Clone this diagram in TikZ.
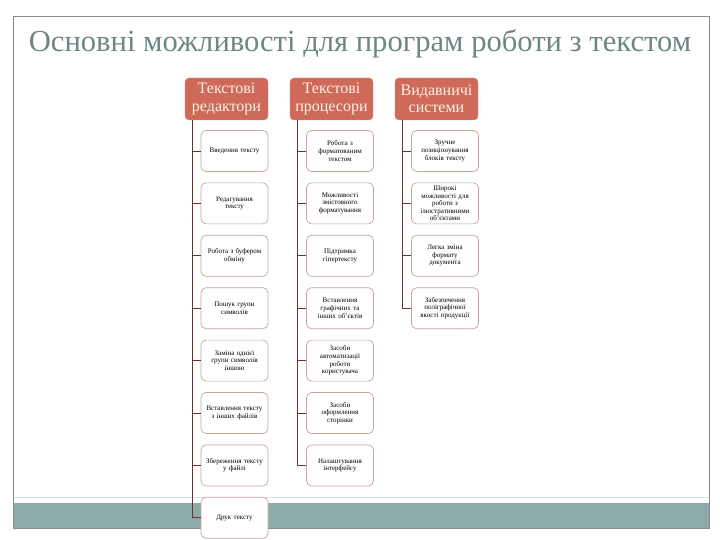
\documentclass[tikz,border=0pt]{standalone}
\usepackage{fontspec}
\setmainfont{Liberation Serif}
\definecolor{titlecol}{HTML}{6E8683}
\definecolor{headfill}{HTML}{CF6A5A}
\definecolor{headtext}{HTML}{FBF1E6}
\definecolor{boxline}{HTML}{C9A29C}
\definecolor{conncol}{HTML}{6E3128}
\definecolor{bandcol}{HTML}{8BABAA}
\definecolor{framecol}{HTML}{8A8A8A}
\tikzset{
  headbox/.style={draw=headfill!80!white, fill=headfill, rounded corners=4pt,
    minimum width=83pt, minimum height=42pt, inner sep=1pt, text width=81pt,
    align=center, text=headtext, font=\fontsize{16}{17.5}\selectfont},
  itembox/.style={draw=boxline, fill=white, rounded corners=5pt, line width=0.7pt,
    minimum width=67pt, minimum height=41pt, inner sep=1pt, text width=65pt,
    align=center, font=\fontsize{7}{7.6}\selectfont},
  conn/.style={draw=conncol, line width=0.7pt}
}
\begin{document}
\begin{tikzpicture}[x=1pt,y=-1pt]
\useasboundingbox (0,0) rectangle (720,540);
% frame and band
\fill[bandcol] (13,503) rectangle (709,528);
\draw[black!12, line width=0.5pt] (13,497) -- (709,497);
\draw[framecol, line width=0.8pt] (13,16) rectangle (709,528);
% title
\node[text=titlecol, font=\fontsize{30.6}{33}\selectfont] (title) at (360,44) {Основні можливості для програм роботи з текстом};
% headers
\node[headbox] (h1) at (226.5,99) {Текстові\\редактори};
\node[headbox] (h2) at (331.5,99) {Текстові\\процесори};
\node[headbox] (h3) at (436.5,99) {Видавничі\\системи};
% column 1
\node[itembox] (a1) at (234.5,151) {Введення тексту};
\node[itembox] (a2) at (234.5,203.4) {Редагування\\тексту};
\node[itembox] (a3) at (234.5,255.8) {Робота з буфером\\обміну};
\node[itembox] (a4) at (234.5,308.2) {Пошук групи\\символів};
\node[itembox] (a5) at (234.5,360.6) {Заміна однієї\\групи символів\\іншою};
\node[itembox] (a6) at (234.5,413) {Вставлення тексту\\з інших файлів};
\node[itembox] (a7) at (234.5,465.4) {Збереження тексту\\у файлі};
\node[itembox] (a8) at (234.5,517.8) {Друк тексту};
% column 2
\node[itembox] (b1) at (340,151) {Робота з\\форматованим\\текстом};
\node[itembox] (b2) at (340,203.4) {Можливості\\змістовного\\форматування};
\node[itembox] (b3) at (340,255.8) {Підтримка\\гіпертексту};
\node[itembox] (b4) at (340,308.2) {Вставлення\\графічних та\\інших об'єктів};
\node[itembox] (b5) at (340,360.6) {Засоби\\автоматизації\\роботи\\користувача};
\node[itembox] (b6) at (340,413) {Засоби\\оформлення\\сторінки};
\node[itembox] (b7) at (340,465.4) {Налаштування\\інтерфейсу};
% column 3
\node[itembox] (c1) at (445,151) {Зручне\\позиціонування\\блоків тексту};
\node[itembox] (c2) at (445,203.4) {Широкі\\можливості для\\роботи з\\ілюстративними\\об'єктами};
\node[itembox] (c3) at (445,255.8) {Легка зміна\\формату\\документа};
\node[itembox] (c4) at (445,308.2) {Забезпечення\\поліграфічної\\якості продукції};
% connectors
\foreach \n in {a1,a2,a3,a4,a5,a6,a7,a8}
  \draw[conn] ([xshift=8pt]h1.south west) |- (\n.west);
\foreach \n in {b1,b2,b3,b4,b5,b6,b7}
  \draw[conn] ([xshift=8pt]h2.south west) |- (\n.west);
\foreach \n in {c1,c2,c3,c4}
  \draw[conn] ([xshift=8pt]h3.south west) |- (\n.west);
\end{tikzpicture}
\end{document}
